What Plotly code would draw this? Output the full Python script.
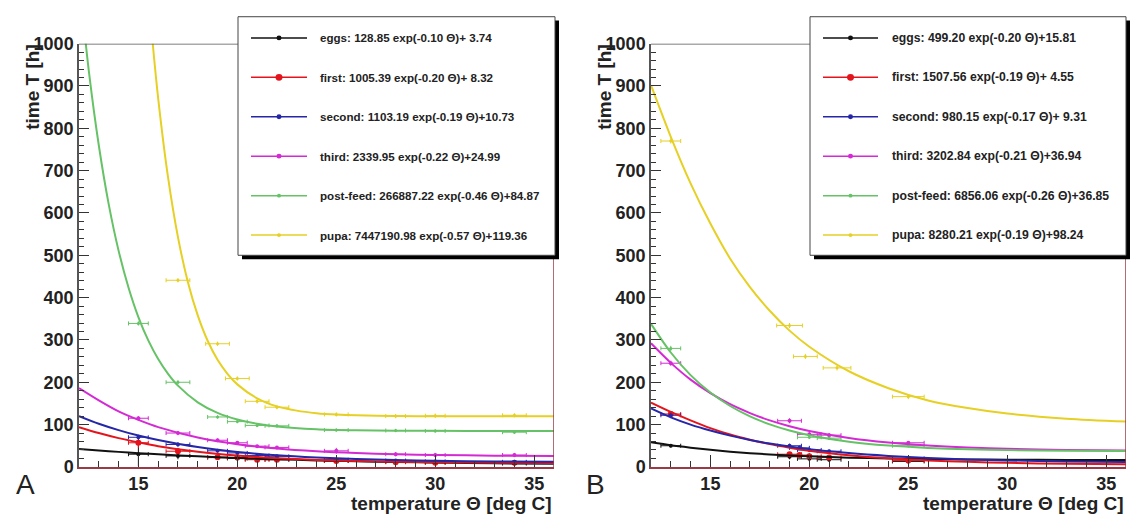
import plotly.graph_objects as go

W, H = 1131, 525

# ---------------- data ----------------
STAGES = ["eggs", "first", "second", "third", "post-feed", "pupa"]

# fit parameters printed in the legends:  amp * exp(rate * theta) + off
A_AMP = [128.85, 1005.39, 1103.19, 2339.95, 266887.22, 7447190.98]
A_RATE = [-0.10, -0.20, -0.19, -0.22, -0.46, -0.57]
A_OFF = [3.74, 8.32, 10.73, 24.99, 84.87, 119.36]
B_AMP = [499.20, 1507.56, 980.15, 3202.84, 6856.06, 8280.21]
B_RATE = [-0.20, -0.19, -0.17, -0.21, -0.26, -0.19]
B_OFF = [15.81, 4.55, 9.31, 36.94, 36.85, 98.24]

# fitted curves (temperature grid, time values)
A_GRID = [12, 13, 14, 15, 16, 18, 20, 22, 24, 26, 28, 30, 33, 36]
A_CURVE_EGGS = [42.5, 38.8, 35.5, 32.5, 29.8, 25.0, 21.2, 18.0, 15.4, 13.3, 11.6, 10.2, 8.5, 7.3]
A_CURVE_FIRST = [94, 80, 68, 58, 49, 35.8, 26.7, 20.7, 16.6, 13.9, 12.0, 10.8, 9.7, 9.1]
A_CURVE_SECOND = [120, 102, 87, 74, 63.5, 46.8, 35.4, 27.6, 22.3, 18.6, 16.1, 14.4, 12.8, 11.9]
A_CURVE_THIRD = [186, 157, 131, 111, 94, 69.6, 53.7, 43.5, 36.9, 32.7, 29.9, 28.2, 26.6, 25.8]
A_GRID_POST = [12, 12.5, 13, 13.5, 14, 14.5, 15, 15.5, 16, 16.5, 17, 18, 19, 20, 21, 22, 24, 26, 28, 30, 33, 36]
A_CURVE_POST = [1153, 934, 760, 621, 511, 424, 354, 299, 255, 220, 192, 152.6, 127.6, 112, 102, 95.6,
                89.1, 86.6, 85.6, 85.2, 84.95, 84.9]
A_GRID_PUPA = [15.5, 15.75, 16, 16.5, 17, 17.5, 18, 18.5, 19, 19.5, 20, 21, 22, 23, 24, 25, 26, 28, 30, 33, 36]
A_CURVE_PUPA = [1122, 988, 871, 684, 543, 437, 358, 298, 253, 220, 195, 162, 143, 133, 127, 123.6,
                121.8, 120.1, 119.6, 119.4, 119.4]

B_GRID = [12, 13, 14, 15, 16, 17, 18, 19, 20, 22, 24, 26, 28, 30, 33, 36]
B_CURVE_EGGS = [58, 51, 45.5, 40.5, 36, 32.5, 29.4, 27, 24.9, 21.9, 19.9, 18.6, 17.6, 17.0, 16.5, 16.2]
B_CURVE_FIRST = [152, 130, 110, 91.7, 76.6, 64.3, 53.9, 45.5, 38.3, 27.7, 20.3, 15.4, 12, 9.6, 7.4, 6.2]
B_CURVE_SECOND = [138, 117, 100, 85.9, 73.9, 63.8, 55.3, 48.1, 42, 32.6, 25.9, 21.1, 17.7, 15.3, 12.9, 11.5]
B_CURVE_THIRD = [292, 245.8, 206.2, 174.2, 148.1, 127.2, 109.9, 96.1, 84.9, 68.5, 57.6, 50.5, 45.9,
                 42.8, 40.1, 38.6]
B_CURVE_POST = [338, 270.3, 216.9, 175.7, 143.9, 119.4, 100.5, 85.9, 74.7, 59.4, 50.3, 44.9, 41.6,
                39.7, 38.2, 37.5]
B_CURVE_PUPA = [902, 780, 670, 575, 492, 425, 369, 322, 284, 226, 186, 157, 139, 126, 114, 107]

# measured points (temperature, its error, time, its error)
A_TEMP = [15, 17, 19, 20, 21, 22, 25, 28, 30, 34]
A_TEMP_ERR = [0.5, 0.6, 0.5, 0.5, 0.6, 0.6, 0.6, 0.5, 0.5, 0.6]
A_EGGS = [30, 26, 22, 20, 18, 17, 14, 12, 10, 8]
A_EGGS_ERR = [28, 8, 4, 3, 3, 3, 2, 2, 2, 2]
A_FIRST = [57, 37, 23, 22, 17, 17, 14, 11, 10, 10]
A_FIRST_ERR = [12, 8, 5, 4, 3, 3, 2, 2, 2, 2]
A_SECOND = [70, 53, 38, 33, 27, 25, 17, 15, 13, 12]
A_SECOND_ERR = [6, 5, 4, 3, 3, 3, 2, 2, 2, 2]
A_THIRD = [115, 80, 63, 57, 49, 46, 38, 30, 28, 28]
A_THIRD_ERR = [5, 5, 4, 4, 3, 3, 7, 5, 5, 5]
A_POST = [339, 200, 118, 107, 98, 97, 87, 86, 85, 82]
A_POST_ERR = [5, 5, 4, 4, 4, 4, 4, 4, 4, 4]
A_PUPA_TEMP = [17, 19, 20, 21, 22, 25, 28, 30, 34]
A_PUPA_TEMP_ERR = [0.6, 0.6, 0.6, 0.6, 0.6, 0.6, 0.5, 0.5, 0.6]
A_PUPA = [441, 291, 209, 155, 141, 124, 120, 121, 122]
A_PUPA_ERR = [5, 5, 5, 5, 5, 5, 5, 5, 5]

B_TEMP6 = [13, 19, 19.5, 20, 21, 25]
B_TEMP6_ERR = [0.5, 0.6, 0.5, 0.6, 0.6, 0.8]
B_TEMP5 = [13, 19, 20, 21, 25]
B_TEMP5_ERR = [0.5, 0.6, 0.6, 0.6, 0.8]
B_EGGS = [50, 24, 19, 17, 13]
B_EGGS_ERR = [4, 6, 6, 5, 3]
B_FIRST = [125, 30, 28, 25, 22, 15]
B_FIRST_ERR = [6, 5, 5, 4, 4, 3]
B_SECOND = [122, 50, 45, 40, 37, 20]
B_SECOND_ERR = [6, 5, 5, 5, 4, 3]
B_THIRD = [245, 109, 77, 75, 57]
B_THIRD_ERR = [6, 6, 5, 5, 4]
B_POST_TEMP = [13, 20, 21, 25]
B_POST_TEMP_ERR = [0.5, 0.6, 0.6, 0.8]
B_POST = [280, 70, 68, 50]
B_POST_ERR = [6, 4, 4, 4]
B_PUPA_TEMP = [13, 19, 19.8, 21.4, 25]
B_PUPA_TEMP_ERR = [0.5, 0.65, 0.6, 0.7, 0.8]
B_PUPA = [770, 334, 261, 234, 166]
B_PUPA_ERR = [6, 6, 6, 6, 6]

X_TICKS = [15, 20, 25, 30, 35]
Y_TICKS = [0, 100, 200, 300, 400, 500, 600, 700, 800, 900, 1000]

# ---------------- styles ----------------
COLORS = ["#111111", "#e4141c", "#2626a8", "#d42ad4", "#66c266", "#e6d024"]
MSIZE = [4, 6, 4, 4, 3, 3]
FONT = "Liberation Sans"
MAROON = "#9a3a46"
FRAME = "#555555"
TXT = "#222222"

fig = go.Figure()

panels = [
    dict(x="x", y="y",
         curves=[(A_GRID, A_CURVE_EGGS), (A_GRID, A_CURVE_FIRST), (A_GRID, A_CURVE_SECOND),
                 (A_GRID, A_CURVE_THIRD), (A_GRID_POST, A_CURVE_POST), (A_GRID_PUPA, A_CURVE_PUPA)],
         points=[(A_TEMP, A_TEMP_ERR, A_EGGS, A_EGGS_ERR), (A_TEMP, A_TEMP_ERR, A_FIRST, A_FIRST_ERR),
                 (A_TEMP, A_TEMP_ERR, A_SECOND, A_SECOND_ERR), (A_TEMP, A_TEMP_ERR, A_THIRD, A_THIRD_ERR),
                 (A_TEMP, A_TEMP_ERR, A_POST, A_POST_ERR),
                 (A_PUPA_TEMP, A_PUPA_TEMP_ERR, A_PUPA, A_PUPA_ERR)]),
    dict(x="x2", y="y2",
         curves=[(B_GRID, B_CURVE_EGGS), (B_GRID, B_CURVE_FIRST), (B_GRID, B_CURVE_SECOND),
                 (B_GRID, B_CURVE_THIRD), (B_GRID, B_CURVE_POST), (B_GRID, B_CURVE_PUPA)],
         points=[(B_TEMP5, B_TEMP5_ERR, B_EGGS, B_EGGS_ERR), (B_TEMP6, B_TEMP6_ERR, B_FIRST, B_FIRST_ERR),
                 (B_TEMP6, B_TEMP6_ERR, B_SECOND, B_SECOND_ERR), (B_TEMP5, B_TEMP5_ERR, B_THIRD, B_THIRD_ERR),
                 (B_POST_TEMP, B_POST_TEMP_ERR, B_POST, B_POST_ERR),
                 (B_PUPA_TEMP, B_PUPA_TEMP_ERR, B_PUPA, B_PUPA_ERR)]),
]

for p in panels:
    for i in range(6):
        tx, terr_x, ty, terr_y = p["points"][i]
        fig.add_trace(go.Scatter(
            x=tx, y=ty, xaxis=p["x"], yaxis=p["y"], mode="markers", showlegend=False,
            marker=dict(color=COLORS[i], size=MSIZE[i]),
            error_x=dict(type="data", array=terr_x, color=COLORS[i], thickness=1, width=2),
            error_y=dict(type="data", array=terr_y, color=COLORS[i], thickness=1, width=0),
            hoverinfo="skip"))
    for i in range(6):
        gx, gy = p["curves"][i]
        fig.add_trace(go.Scatter(
            x=gx, y=gy, xaxis=p["x"], yaxis=p["y"], mode="lines", showlegend=False,
            line=dict(color=COLORS[i], width=2, shape="spline", smoothing=0.8),
            hoverinfo="skip"))

# ---------------- layout ----------------
def px_x(v):
    return v / W


def px_y(v):
    return 1 - v / H


A_L, A_R, B_L, B_R, TOP, BOT = 79, 554, 651, 1126, 35, 475
ydom = [px_y(BOT), px_y(TOP)]

tickfont = dict(family=FONT, size=18, color=TXT)
xcommon = dict(range=[12, 36], tickmode="array", tickvals=X_TICKS,
               ticktext=["<b>%d</b>" % v for v in X_TICKS],
               ticks="inside", ticklen=12, tickwidth=1,
               tickcolor="#333333", showgrid=False, zeroline=False, showline=True,
               linecolor=MAROON, linewidth=1.5, tickfont=tickfont,
               minor=dict(tick0=12, dtick=1, ticks="inside", ticklen=6, tickcolor="#333333"))
ycommon = dict(range=[0, 1000], tickmode="array", tickvals=Y_TICKS,
               ticktext=["<b>%d</b>" % v for v in Y_TICKS],
               ticks="inside", ticklen=10, tickwidth=1,
               tickcolor="#333333", showgrid=False, zeroline=False, showline=True,
               linecolor=FRAME, linewidth=1.5, tickfont=tickfont,
               minor=dict(tick0=0, dtick=20, ticks="inside", ticklen=5, tickcolor="#333333"))

fig.update_layout(
    width=W, height=H, margin=dict(l=0, r=0, t=0, b=0),
    paper_bgcolor="white", plot_bgcolor="white",
    xaxis=dict(domain=[px_x(A_L), px_x(A_R)], anchor="y", **xcommon),
    yaxis=dict(domain=ydom, anchor="x", **ycommon),
    xaxis2=dict(domain=[px_x(B_L), px_x(B_R)], anchor="y2", **xcommon),
    yaxis2=dict(domain=ydom, anchor="x2", **ycommon),
)

shapes = []
annotations = []
ROWS = [29, 70, 111, 152, 193, 234]
for (xa, ya, left, right, box_l, box_r, line_l, line_r, text_l, fsz, amps, rates, offs, letter, let_x) in [
    ("x", "y", A_L, A_R, 238, 555, 251, 307, 318, 11.6, A_AMP, A_RATE, A_OFF, "A", 14),
    ("x2", "y2", B_L, B_R, 810, 1126, 823, 878, 890, 12.2, B_AMP, B_RATE, B_OFF, "B", 584),
]:
    # frame: top and right
    shapes.append(dict(type="line", xref=xa, yref=ya, x0=12, x1=36, y0=1000, y1=1000,
                       line=dict(color=FRAME, width=1.5)))
    shapes.append(dict(type="line", xref=xa, yref=ya, x0=36, x1=36, y0=0, y1=1000,
                       line=dict(color=MAROON, width=1.5)))
    # legend shadow + box
    shapes.append(dict(type="rect", xref="paper", yref="paper",
                       x0=px_x(box_l + 4), x1=px_x(box_r + 4), y0=px_y(259), y1=px_y(11),
                       fillcolor="black", line=dict(width=0)))
    shapes.append(dict(type="rect", xref="paper", yref="paper",
                       x0=px_x(box_l), x1=px_x(box_r), y0=px_y(255), y1=px_y(7),
                       fillcolor="white", line=dict(color="#444444", width=1)))
    for i in range(6):
        yy = px_y(ROWS[i])
        shapes.append(dict(type="line", xref="paper", yref="paper", x0=px_x(line_l), x1=px_x(line_r),
                           y0=yy, y1=yy, line=dict(color=COLORS[i], width=1.5)))
        mx = (line_l + line_r) / 2
        r = MSIZE[i] / 2 + 0.5
        shapes.append(dict(type="circle", xref="paper", yref="paper",
                           x0=px_x(mx - r), x1=px_x(mx + r), y0=px_y(ROWS[i] + r), y1=px_y(ROWS[i] - r),
                           fillcolor=COLORS[i], line=dict(width=0)))
        off = "%.2f" % offs[i]
        if len(off) < 5:
            off = "\u00a0" + off
        label = "<b>%s: %.2f exp(%.2f \u0398)+%s</b>" % (STAGES[i], amps[i], rates[i], off)
        annotations.append(dict(xref="paper", yref="paper", x=px_x(text_l), y=yy, xanchor="left",
                                yanchor="middle", showarrow=False, text=label,
                                font=dict(family=FONT, size=fsz, color=TXT)))
    # axis titles
    annotations.append(dict(xref="paper", yref="paper", x=px_x(left - 46), y=px_y(TOP - 2),
                            xanchor="center", yanchor="top", textangle=-90, showarrow=False,
                            text="<b>time T [h]</b>",
                            font=dict(family=FONT, size=19, color=TXT)))
    annotations.append(dict(xref="paper", yref="paper", x=px_x(right), y=px_y(513),
                            xanchor="right", yanchor="middle", showarrow=False,
                            text="<b>temperature \u0398 [deg C]</b>",
                            font=dict(family=FONT, size=19, color=TXT)))
    annotations.append(dict(xref="paper", yref="paper", x=px_x(let_x), y=px_y(493),
                            xanchor="left", yanchor="middle", showarrow=False, text=letter,
                            font=dict(family=FONT, size=28, color=TXT)))

fig.update_layout(shapes=shapes, annotations=annotations)
fig.write_html("out.html")
